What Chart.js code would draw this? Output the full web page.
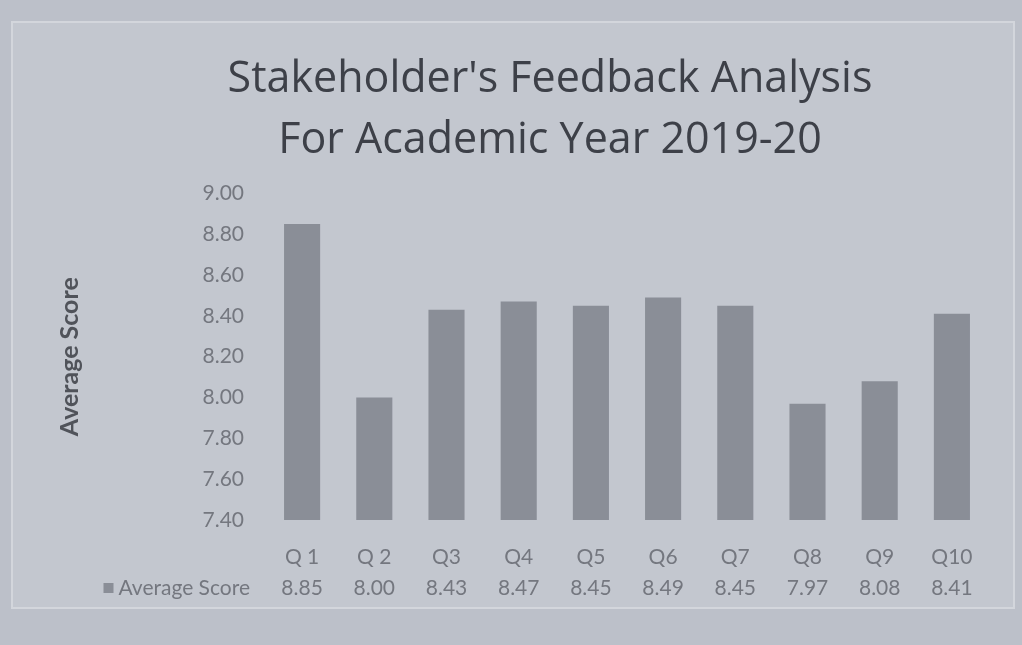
<!DOCTYPE html>
<html>
<head>
<meta charset="utf-8">
<script src="https://cdn.jsdelivr.net/npm/chart.js@4.4.1/dist/chart.umd.min.js"></script>
<style>
  html, body { margin: 0; padding: 0; background: #bfc3cc; }
  #wrap { width: 1022px; height: 645px; }
</style>
</head>
<body>
<div id="wrap"><canvas id="c" width="1022" height="645"></canvas></div>
<script>
const categories = ["Q 1", "Q 2", "Q3", "Q4", "Q5", "Q6", "Q7", "Q8", "Q9", "Q10"];
const averageScore = [8.85, 8.00, 8.43, 8.47, 8.45, 8.49, 8.45, 7.97, 8.08, 8.41];
const valueLabels = ["8.85", "8.00", "8.43", "8.47", "8.45", "8.49", "8.45", "7.97", "8.08", "8.41"];
const seriesName = "Average Score";
const titleLines = ["Stakeholder's Feedback Analysis", "For Academic Year 2019-20"];

const FONT = "Lato, 'Open Sans', sans-serif";
const TITLE_FONT = "'Open Sans', Lato, sans-serif";
const BAR = "#8a8e97";
const TXT = "#74777f";

const framePlugin = {
  id: 'frame',
  beforeDraw(chart) {
    const ctx = chart.ctx;
    ctx.save();
    ctx.fillStyle = "#bcc0c9";
    ctx.fillRect(0, 0, chart.width, chart.height);
    ctx.fillStyle = "#c3c7cf";
    ctx.fillRect(12, 22, 1002, 586);
    ctx.strokeStyle = "#d3d6dc";
    ctx.lineWidth = 2;
    ctx.strokeRect(12, 22, 1002, 586);
    ctx.restore();
  }
};

const tablePlugin = {
  id: 'dataTable',
  afterDraw(chart) {
    const ctx = chart.ctx;
    const x = chart.scales.x;
    ctx.save();
    ctx.font = "21px " + FONT;
    ctx.fillStyle = TXT;
    ctx.textBaseline = "middle";
    ctx.textAlign = "center";
    const yRow = 588;
    valueLabels.forEach((v, i) => {
      ctx.fillText(v, x.getPixelForValue(i), yRow);
    });
    ctx.textAlign = "right";
    ctx.fillText(seriesName, 250, yRow);
    const w = ctx.measureText(seriesName).width;
    ctx.fillStyle = BAR;
    ctx.fillRect(250 - w - 15, yRow - 5, 10, 10);
    ctx.restore();
  }
};

new Chart(document.getElementById('c'), {
  type: 'bar',
  data: {
    labels: categories,
    datasets: [{
      label: seriesName,
      data: averageScore,
      backgroundColor: BAR,
      borderWidth: 0,
      barPercentage: 0.5,
      categoryPercentage: 1.0
    }]
  },
  options: {
    responsive: false,
    animation: false,
    layout: { padding: { left: 112, right: 34, top: 50, bottom: 0 } },
    plugins: {
      legend: { display: false },
      tooltip: { enabled: false },
      title: {
        display: true,
        text: titleLines,
        color: "#3d4048",
        font: { family: TITLE_FONT, size: 43, weight: 'normal', lineHeight: 1.4 },
        padding: { top: 0, bottom: 23 }
      }
    },
    scales: {
      x: {
        grid: { display: false },
        border: { display: false },
        ticks: { color: TXT, font: { family: FONT, size: 21 }, padding: 17, maxRotation: 0 },
        afterFit(s) { s.height = 125; }
      },
      y: {
        min: 7.4,
        max: 9.0,
        grid: { display: false },
        border: { display: false },
        ticks: {
          stepSize: 0.2,
          color: TXT,
          padding: 14,
          font: { family: FONT, size: 21 },
          callback: v => Number(v).toFixed(2)
        },
        title: {
          display: true,
          text: seriesName,
          color: "#50535a",
          font: { family: FONT, size: 25, weight: 'bold' },
          padding: { top: -57, bottom: 0 }
        },
        afterFit(s) { s.width = 154; }
      }
    }
  },
  plugins: [framePlugin, tablePlugin]
});
</script>
</body>
</html>
